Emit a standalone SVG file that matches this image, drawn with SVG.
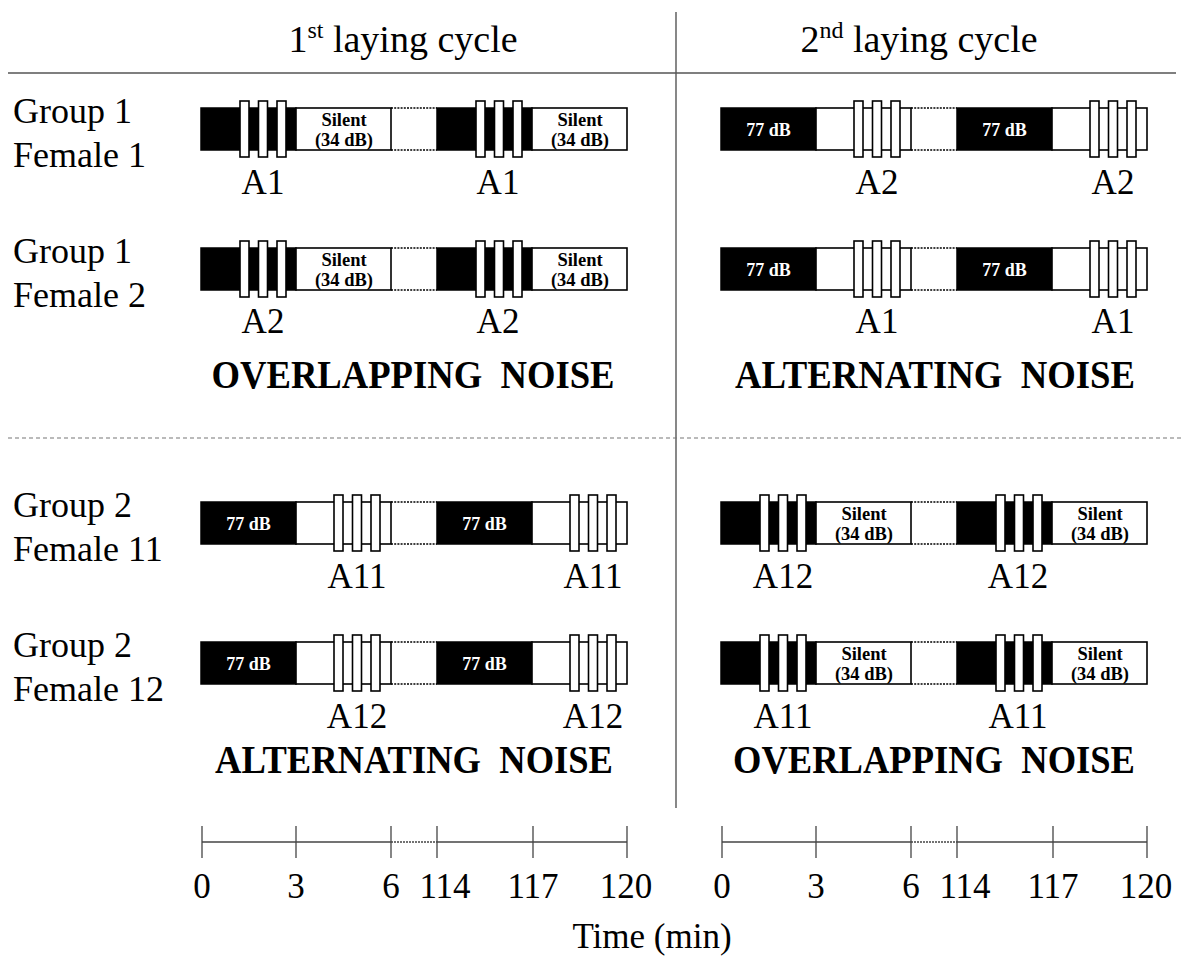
<svg xmlns="http://www.w3.org/2000/svg" width="1183" height="963" viewBox="0 0 1183 963">
  <style>
    text { font-family: "Liberation Serif", "Times New Roman", serif; fill: #000; }
    .lbl { font-size: 36px; }
    .head { font-size: 38px; }
    .sup { font-size: 24px; }
    .tag { font-size: 35px; text-anchor: middle; }
    .mode { font-size: 39px; font-weight: bold; text-anchor: middle; }
    .in { font-size: 18.5px; font-weight: bold; text-anchor: middle; }
    .inw { font-size: 18px; font-weight: bold; text-anchor: middle; fill: #fff; }
    .tick { font-size: 35px; text-anchor: middle; }
    .blk { fill: #000; stroke: #000; stroke-width: 1.5; }
    .wht { fill: #fff; stroke: #000; stroke-width: 1.6; }
    .gap { stroke: #000; stroke-width: 1.4; stroke-dasharray: 2 1.2; fill: none; }
    .rule { stroke: #555; stroke-width: 1.4; fill: none; }
    .dash { stroke: #777; stroke-width: 1.2; stroke-dasharray: 4 3; fill: none; }
    .axis { stroke: #444; stroke-width: 1.3; fill: none; }
    .axisgap { stroke: #444; stroke-width: 1.3; stroke-dasharray: 2 1; fill: none; }
  </style>

  <defs>
    <!-- 3-min noise on, three playback bouts overlapping it, then 3 min of silence -->
    <g id="segOverlap">
      <rect class="blk" x="0" y="0" width="95" height="42"/>
      <rect class="wht" x="95" y="0" width="95" height="42"/>
      <rect class="wht" x="39" y="-7" width="9" height="56"/>
      <rect class="wht" x="57.5" y="-7" width="9" height="56"/>
      <rect class="wht" x="76" y="-7" width="9" height="56"/>
      <text class="in" x="143" y="18">Silent</text>
      <text class="in" x="143" y="38">(34 dB)</text>
    </g>
    <!-- 3-min noise on, then three playback bouts during the quiet part -->
    <g id="segAlternate">
      <rect class="blk" x="0" y="0" width="95" height="42"/>
      <rect class="wht" x="95" y="0" width="95" height="42"/>
      <rect class="wht" x="133" y="-7" width="9" height="56"/>
      <rect class="wht" x="151.5" y="-7" width="9" height="56"/>
      <rect class="wht" x="170" y="-7" width="9" height="56"/>
      <text class="inw" x="47.5" y="28">77 dB</text>
    </g>
    <!-- dotted break between minute 6 and minute 114 -->
    <g id="gap">
      <line class="gap" x1="190" y1="0" x2="236" y2="0"/>
      <line class="gap" x1="190" y1="42" x2="236" y2="42"/>
    </g>
    <g id="barOverlap">
      <use href="#segOverlap"/>
      <use href="#gap"/>
      <use href="#segOverlap" x="236"/>
    </g>
    <g id="barAlternate">
      <use href="#segAlternate"/>
      <use href="#gap"/>
      <use href="#segAlternate" x="236"/>
    </g>
    <!-- time axis, 0-6 and 114-120 min -->
    <g id="timeAxis">
      <line class="axis" x1="202" y1="842" x2="391" y2="842"/>
      <line class="axisgap" x1="391" y1="842" x2="437" y2="842"/>
      <line class="axis" x1="437" y1="842" x2="627" y2="842"/>
      <line class="axis" x1="202" y1="826" x2="202" y2="858"/>
      <line class="axis" x1="296" y1="826" x2="296" y2="858"/>
      <line class="axis" x1="391" y1="826" x2="391" y2="858"/>
      <line class="axis" x1="437" y1="826" x2="437" y2="858"/>
      <line class="axis" x1="533" y1="826" x2="533" y2="858"/>
      <line class="axis" x1="627" y1="826" x2="627" y2="858"/>
      <text class="tick" x="202" y="898">0</text>
      <text class="tick" x="296" y="898">3</text>
      <text class="tick" x="391" y="898">6</text>
      <text class="tick" x="445" y="898">114</text>
      <text class="tick" x="533" y="898">117</text>
      <text class="tick" x="626" y="898">120</text>
    </g>
  </defs>

  <rect width="1183" height="963" fill="#fff"/>

  <!-- frame rules -->
  <g id="connectors">
    <line class="rule" x1="8" y1="73" x2="1176" y2="73"/>
    <line class="rule" x1="676" y1="12" x2="676" y2="808"/>
    <line class="dash" x1="8" y1="438" x2="1183" y2="438"/>
  </g>

  <!-- column headings -->
  <g id="head-cycle1">
    <text class="head" x="403" y="52" text-anchor="middle">1<tspan class="sup" dy="-14">st</tspan><tspan dy="14"> laying cycle</tspan></text>
  </g>
  <g id="head-cycle2">
    <text class="head" x="919" y="52" text-anchor="middle">2<tspan class="sup" dy="-14">nd</tspan><tspan dy="14"> laying cycle</tspan></text>
  </g>

  <!-- Group 1, Female 1 -->
  <g id="row-g1-f1">
    <text class="lbl" x="13" y="123">Group 1</text>
    <text class="lbl" x="13" y="167">Female 1</text>
    <use href="#barOverlap" x="201" y="108"/>
    <text class="tag" x="263" y="194">A1</text>
    <text class="tag" x="498" y="194">A1</text>
    <use href="#barAlternate" x="721" y="108"/>
    <text class="tag" x="877" y="194">A2</text>
    <text class="tag" x="1113" y="194">A2</text>
  </g>

  <!-- Group 1, Female 2 -->
  <g id="row-g1-f2">
    <text class="lbl" x="13" y="263">Group 1</text>
    <text class="lbl" x="13" y="307">Female 2</text>
    <use href="#barOverlap" x="201" y="248"/>
    <text class="tag" x="263" y="333">A2</text>
    <text class="tag" x="498" y="333">A2</text>
    <use href="#barAlternate" x="721" y="248"/>
    <text class="tag" x="877" y="333">A1</text>
    <text class="tag" x="1113" y="333">A1</text>
  </g>

  <g id="mode-top">
    <text class="mode" x="413" y="388" textLength="403" lengthAdjust="spacingAndGlyphs">OVERLAPPING&#160; NOISE</text>
    <text class="mode" x="935" y="388" textLength="400" lengthAdjust="spacingAndGlyphs">ALTERNATING&#160; NOISE</text>
  </g>

  <!-- Group 2, Female 11 -->
  <g id="row-g2-f11">
    <text class="lbl" x="13" y="517">Group 2</text>
    <text class="lbl" x="13" y="561">Female 11</text>
    <use href="#barAlternate" x="201" y="502"/>
    <text class="tag" x="357" y="588">A11</text>
    <text class="tag" x="593" y="588">A11</text>
    <use href="#barOverlap" x="721" y="502"/>
    <text class="tag" x="783" y="588">A12</text>
    <text class="tag" x="1018" y="588">A12</text>
  </g>

  <!-- Group 2, Female 12 -->
  <g id="row-g2-f12">
    <text class="lbl" x="13" y="657">Group 2</text>
    <text class="lbl" x="13" y="701">Female 12</text>
    <use href="#barAlternate" x="201" y="642"/>
    <text class="tag" x="357" y="728">A12</text>
    <text class="tag" x="593" y="728">A12</text>
    <use href="#barOverlap" x="721" y="642"/>
    <text class="tag" x="783" y="728">A11</text>
    <text class="tag" x="1018" y="728">A11</text>
  </g>

  <g id="mode-bottom">
    <text class="mode" x="414" y="773" textLength="398" lengthAdjust="spacingAndGlyphs">ALTERNATING&#160; NOISE</text>
    <text class="mode" x="934" y="773" textLength="402" lengthAdjust="spacingAndGlyphs">OVERLAPPING&#160; NOISE</text>
  </g>

  <!-- time axes -->
  <g id="axis-cycle1">
    <use href="#timeAxis"/>
  </g>
  <g id="axis-cycle2">
    <use href="#timeAxis" x="520"/>
  </g>
  <g id="axis-title">
    <text class="tick" x="652" y="948">Time (min)</text>
  </g>
</svg>
